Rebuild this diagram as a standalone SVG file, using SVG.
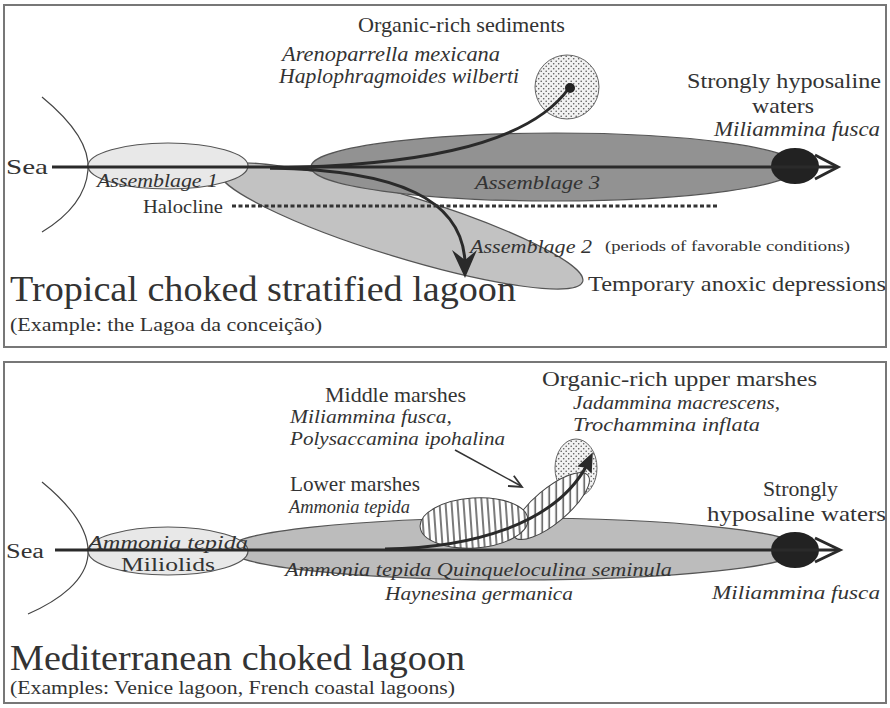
<svg xmlns="http://www.w3.org/2000/svg" width="890" height="708" viewBox="0 0 890 708">
<defs>
<style>
text{font-family:"Liberation Serif","Times New Roman",serif;fill:#333}
.it{font-style:italic}
.frame{fill:#fff;stroke:#777;stroke-width:2}
.line{fill:none;stroke:#2a2a2a;stroke-width:3}
.thin{fill:none;stroke:#444;stroke-width:1.2}
.edge{stroke:#555;stroke-width:1.2}
</style>
<pattern id="dots" width="5" height="5" patternUnits="userSpaceOnUse">
<rect width="5" height="5" fill="#f2f2f2"/>
<circle cx="1.2" cy="1.2" r="0.8" fill="#555"/>
<circle cx="3.7" cy="3.7" r="0.8" fill="#555"/>
</pattern>
<pattern id="vhatch" width="6" height="6" patternUnits="userSpaceOnUse">
<rect width="6" height="6" fill="#fff"/>
<line x1="3" y1="0" x2="3" y2="6" stroke="#333" stroke-width="1.3"/>
</pattern>
<pattern id="dhatch" width="7" height="7" patternUnits="userSpaceOnUse" patternTransform="rotate(40)">
<rect width="7" height="7" fill="#fff"/>
<line x1="3.5" y1="0" x2="3.5" y2="7" stroke="#333" stroke-width="1.3"/>
</pattern>
</defs>

<!-- Panel 1 -->
<g id="panel1">
<rect class="frame" x="4" y="5" width="882" height="342"/>
</g>
<g id="coast1"><path class="thin" d="M42,97 C70,120 90,145 88,170 C86,195 70,215 42,232"/></g>
<g id="assemblage2"><ellipse cx="401" cy="226" rx="190" ry="31" transform="rotate(17 401 226)" fill="#c2c2c2" class="edge"/></g>
<g id="assemblage3"><ellipse cx="555" cy="167" rx="244" ry="34" fill="#929292" class="edge"/></g>
<g id="assemblage1"><ellipse cx="168" cy="166" rx="80" ry="23" fill="#e8e8e8" class="edge"/></g>
<g id="organic-sed"><circle cx="567" cy="87" r="32" fill="url(#dots)" stroke="#666" stroke-width="1"/></g>
<g id="hyposaline1"><ellipse cx="795" cy="166" rx="24" ry="18" fill="#222"/></g>
<g id="connectors1">
<line x1="52" y1="167" x2="836" y2="167" class="line"/>
<path d="M815,155 L838,167 L815,179" fill="none" stroke="#2a2a2a" stroke-width="3"/>
<path class="line" d="M270,168 C400,166 525,150 569,88"/>
<circle cx="570" cy="88" r="5" fill="#222"/>
<path class="line" d="M270,168 C400,170 462,200 465,262"/>
<path d="M452,250 L465,278 L477,250 L465,260 Z" fill="#2a2a2a"/>
<line x1="232" y1="206" x2="718" y2="206" stroke="#333" stroke-width="3" stroke-dasharray="4 2.5"/>
</g>
<g id="labels1">
<text x="358" y="32" font-size="21" textLength="207" lengthAdjust="spacingAndGlyphs">Organic-rich sediments</text>
<text x="282" y="61" font-size="20" class="it" textLength="218" lengthAdjust="spacingAndGlyphs">Arenoparrella mexicana</text>
<text x="279" y="83" font-size="20" class="it" textLength="240" lengthAdjust="spacingAndGlyphs">Haplophragmoides wilberti</text>
<text x="687" y="88" font-size="21" textLength="194" lengthAdjust="spacingAndGlyphs">Strongly hyposaline</text>
<text x="752" y="113" font-size="21" textLength="62" lengthAdjust="spacingAndGlyphs">waters</text>
<text x="714" y="136" font-size="20" class="it" textLength="166" lengthAdjust="spacingAndGlyphs">Miliammina fusca</text>
<text x="6" y="174" font-size="21" textLength="42" lengthAdjust="spacingAndGlyphs">Sea</text>
<text x="97" y="187" font-size="19" class="it" fill="#444" textLength="121" lengthAdjust="spacingAndGlyphs">Assemblage 1</text>
<text x="475" y="189" font-size="19" class="it" textLength="125" lengthAdjust="spacingAndGlyphs">Assemblage 3</text>
<text x="143" y="213" font-size="18" textLength="80" lengthAdjust="spacingAndGlyphs">Halocline</text>
<text x="470" y="253" font-size="19" class="it" textLength="122" lengthAdjust="spacingAndGlyphs">Assemblage 2</text>
<text x="605" y="251" font-size="15" textLength="245" lengthAdjust="spacingAndGlyphs">(periods of favorable conditions)</text>
<text x="588" y="291" font-size="22" textLength="298" lengthAdjust="spacingAndGlyphs">Temporary anoxic depressions</text>
<text x="10" y="301" font-size="35" textLength="506" lengthAdjust="spacingAndGlyphs">Tropical choked stratified lagoon</text>
<text x="10" y="331" font-size="18" textLength="312" lengthAdjust="spacingAndGlyphs">(Example: the Lagoa da conceição)</text>
</g>

<!-- Panel 2 -->
<g id="panel2">
<rect class="frame" x="4" y="362" width="882" height="341"/>
</g>
<g id="coast2"><path class="thin" d="M42,482 C70,505 90,530 88,555 C86,580 60,600 28,614"/></g>
<g id="main-lagoon"><ellipse cx="515" cy="549" rx="287" ry="31" fill="#bcbcbc" class="edge"/></g>
<g id="sea-assemblage"><ellipse cx="168" cy="551" rx="80" ry="24" fill="#e8e8e8" class="edge"/></g>
<g id="upper-marsh"><ellipse cx="576" cy="468" rx="21" ry="29" fill="url(#dots)" stroke="#666" stroke-width="1"/></g>
<g id="middle-marsh"><ellipse cx="551" cy="506" rx="48" ry="17" transform="rotate(-40 551 506)" fill="url(#dhatch)" stroke="#444" stroke-width="1"/></g>
<g id="lower-marsh"><ellipse cx="474" cy="523" rx="54" ry="25" transform="rotate(-4 474 523)" fill="url(#vhatch)" stroke="#444" stroke-width="1"/></g>
<g id="hyposaline2"><ellipse cx="795" cy="550" rx="24" ry="18" fill="#222"/></g>
<g id="connectors2">
<line x1="55" y1="550" x2="838" y2="550" class="line"/>
<path d="M815,538 L840,550 L815,562" fill="none" stroke="#2a2a2a" stroke-width="3"/>
<path class="line" d="M385,549 C470,548 555,525 587,465"/>
<path d="M592,454 L591,472 L586,467 L579,466 Z" fill="#2a2a2a" stroke="#2a2a2a" stroke-width="1.5"/>
<line x1="455" y1="450" x2="521" y2="486" stroke="#333" stroke-width="1.5"/>
<path d="M513.8,475.7 L522,487 L508,486" fill="none" stroke="#333" stroke-width="1.8"/>
</g>
<g id="labels2">
<text x="325" y="402" font-size="22" textLength="141" lengthAdjust="spacingAndGlyphs">Middle marshes</text>
<text x="290" y="423" font-size="19" class="it" textLength="162" lengthAdjust="spacingAndGlyphs">Miliammina fusca,</text>
<text x="290" y="445" font-size="19" class="it" textLength="215" lengthAdjust="spacingAndGlyphs">Polysaccamina ipohalina</text>
<text x="542" y="386" font-size="22" textLength="275" lengthAdjust="spacingAndGlyphs">Organic-rich upper marshes</text>
<text x="573" y="409" font-size="19" class="it" textLength="207" lengthAdjust="spacingAndGlyphs">Jadammina macrescens,</text>
<text x="573" y="431" font-size="19" class="it" textLength="187" lengthAdjust="spacingAndGlyphs">Trochammina inflata</text>
<text x="290" y="491" font-size="22" textLength="130" lengthAdjust="spacingAndGlyphs">Lower marshes</text>
<text x="289" y="513" font-size="19" class="it" textLength="121" lengthAdjust="spacingAndGlyphs">Ammonia tepida</text>
<text x="763" y="496" font-size="21" textLength="75" lengthAdjust="spacingAndGlyphs">Strongly</text>
<text x="707" y="521" font-size="21" textLength="179" lengthAdjust="spacingAndGlyphs">hyposaline waters</text>
<text x="6" y="558" font-size="20" textLength="38" lengthAdjust="spacingAndGlyphs">Sea</text>
<text x="88" y="549" font-size="18" class="it" textLength="160" lengthAdjust="spacingAndGlyphs">Ammonia tepida</text>
<text x="121" y="571" font-size="18" textLength="94" lengthAdjust="spacingAndGlyphs">Miliolids</text>
<text x="285" y="576" font-size="19" class="it" textLength="387" lengthAdjust="spacingAndGlyphs">Ammonia tepida  Quinqueloculina seminula</text>
<text x="385" y="600" font-size="19" class="it" textLength="188" lengthAdjust="spacingAndGlyphs">Haynesina germanica</text>
<text x="712" y="599" font-size="19" class="it" textLength="168" lengthAdjust="spacingAndGlyphs">Miliammina fusca</text>
<text x="10" y="670" font-size="36" textLength="455" lengthAdjust="spacingAndGlyphs">Mediterranean choked lagoon</text>
<text x="10" y="694" font-size="18" textLength="445" lengthAdjust="spacingAndGlyphs">(Examples: Venice lagoon, French coastal lagoons)</text>
</g>
</svg>
